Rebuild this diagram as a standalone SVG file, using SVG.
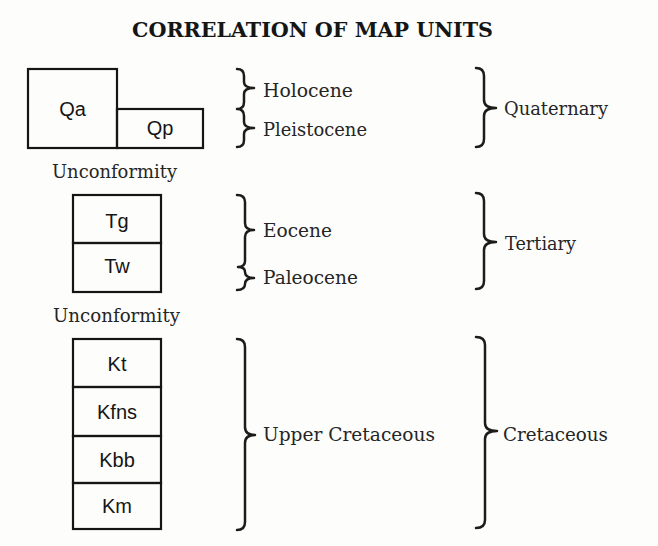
<svg xmlns="http://www.w3.org/2000/svg" width="658" height="546" viewBox="0 0 658 546">
<style>
.bg{fill:#fdfdfb}
.box{fill:none;stroke:#151515;stroke-width:2.2}
.brace{fill:none;stroke:#1c1c1c;stroke-width:2.5;stroke-linecap:round;stroke-linejoin:round}
.lbl{font-family:"Liberation Sans",Arial,sans-serif;font-size:20px;fill:#151515;text-anchor:middle}
.srf{font-family:"DejaVu Serif",serif;font-size:18px;fill:#252525}
.title{font-family:"DejaVu Serif",serif;font-size:20px;font-weight:bold;fill:#151515}
</style>
<rect class="bg" x="0" y="0" width="658" height="546"/>
<text class="title" x="132" y="37" textLength="361" lengthAdjust="spacingAndGlyphs">CORRELATION OF MAP UNITS</text>

<g id="Qa"><rect class="box" x="28" y="69" width="89" height="79"/><text class="lbl" x="72.5" y="116">Qa</text></g>
<g id="Qp"><rect class="box" x="117" y="109" width="86" height="39"/><text class="lbl" x="160" y="135">Qp</text></g>
<g id="unconformity1"><text class="srf" x="52" y="178" textLength="125" lengthAdjust="spacingAndGlyphs">Unconformity</text></g>
<g id="Tg"><rect class="box" x="73" y="195" width="88" height="48"/><text class="lbl" x="117" y="228">Tg</text></g>
<g id="Tw"><rect class="box" x="73" y="243" width="88" height="49"/><text class="lbl" x="117" y="273">Tw</text></g>
<g id="unconformity2"><text class="srf" x="53" y="322" textLength="127" lengthAdjust="spacingAndGlyphs">Unconformity</text></g>
<g id="Kt"><rect class="box" x="73" y="339" width="88" height="48"/><text class="lbl" x="117" y="371">Kt</text></g>
<g id="Kfns"><rect class="box" x="73" y="387" width="88" height="49"/><text class="lbl" x="117" y="419">Kfns</text></g>
<g id="Kbb"><rect class="box" x="73" y="436" width="88" height="47"/><text class="lbl" x="117" y="467">Kbb</text></g>
<g id="Km"><rect class="box" x="73" y="483" width="88" height="46"/><text class="lbl" x="117" y="513">Km</text></g>

<g id="epochs">
<text class="srf" x="263" y="97" textLength="90" lengthAdjust="spacingAndGlyphs">Holocene</text>
<text class="srf" x="263" y="136" textLength="104" lengthAdjust="spacingAndGlyphs">Pleistocene</text>
<text class="srf" x="263" y="237" textLength="69" lengthAdjust="spacingAndGlyphs">Eocene</text>
<text class="srf" x="263" y="284" textLength="95" lengthAdjust="spacingAndGlyphs">Paleocene</text>
<text class="srf" x="263" y="441" textLength="172" lengthAdjust="spacingAndGlyphs">Upper Cretaceous</text>
</g>
<g id="periods">
<text class="srf" x="504" y="115" textLength="104" lengthAdjust="spacingAndGlyphs">Quaternary</text>
<text class="srf" x="505" y="250" textLength="71" lengthAdjust="spacingAndGlyphs">Tertiary</text>
<text class="srf" x="503" y="441" textLength="105" lengthAdjust="spacingAndGlyphs">Cretaceous</text>
</g>

<g id="connectors">
<path class="brace" d="M237,69 Q244,69 244,76 L244,82 Q244,88 254,88 Q244,88 244,94 L244,102 Q244,109 237,109 Q244,109 244,116 L244,122 Q244,128 254,128 Q244,128 244,134 L244,140 Q244,147 237,147"/>
<path class="brace" d="M237,195 Q245,195 245,202 L245,223 Q245,230 254,230 Q245,230 245,237 L245,261 Q245,267 238,267 Q245,267 245,272 Q245,278 254,278 Q245,278 245,284 Q245,290 237,290"/>
<path class="brace" d="M237,339 Q245,339 245,347 L245,427 Q245,435 255,435 Q245,435 245,443 L245,522 Q245,530 237,530"/>
<path class="brace" d="M476,68 Q484,68 484,76 L484,100 Q484,108 496,108 Q484,108 484,116 L484,139 Q484,147 476,147"/>
<path class="brace" d="M476,193 Q484,193 484,201 L484,234 Q484,242 496,242 Q484,242 484,250 L484,281 Q484,289 476,289"/>
<path class="brace" d="M476,337 Q485,337 485,345 L485,423 Q485,431 497,431 Q485,431 485,439 L485,520 Q485,528 476,528"/>
</g>
</svg>
